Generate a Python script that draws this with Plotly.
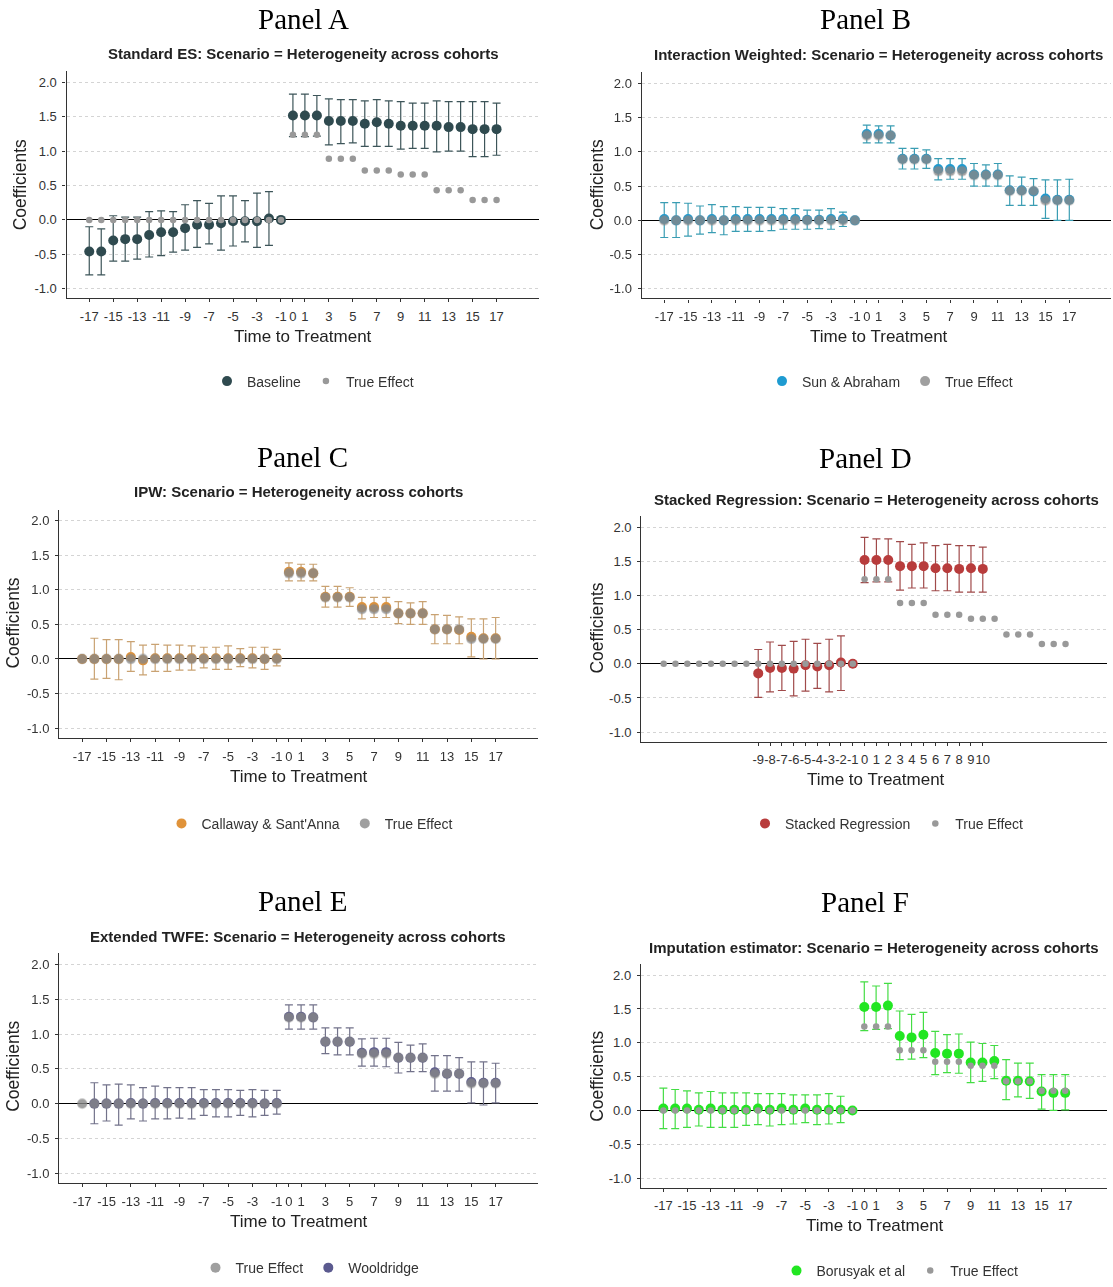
import plotly.graph_objects as go

W, H = 1113, 1287

# ---------------- data ----------------
event_time = [-17, -16, -15, -14, -13, -12, -11, -10, -9, -8, -7, -6, -5, -4, -3, -2, -1,
              0, 1, 2, 3, 4, 5, 6, 7, 8, 9, 10, 11, 12, 13, 14, 15, 16, 17]
stacked_time = [-9, -8, -7, -6, -5, -4, -3, -2, -1, 0, 1, 2, 3, 4, 5, 6, 7, 8, 9, 10]

x_tick_vals = [-17, -15, -13, -11, -9, -7, -5, -3, -1, 0, 1, 3, 5, 7, 9, 11, 13, 15, 17]
x_tick_text = ["-17", "-15", "-13", "-11", "-9", "-7", "-5", "-3", "-1", "0", "1",
               "3", "5", "7", "9", "11", "13", "15", "17"]
stacked_tick_text = ["-9", "-8", "-7", "-6", "-5", "-4", "-3", "-2", "-1", "0",
                     "1", "2", "3", "4", "5", "6", "7", "8", "9", "10"]
y_tick_vals = [-1.0, -0.5, 0.0, 0.5, 1.0, 1.5, 2.0]
y_tick_text = ["-1.0", "-0.5", "0.0", "0.5", "1.0", "1.5", "2.0"]

true_effect = [0.0, 0.0, 0.0, 0.0, 0.0, 0.0, 0.0, 0.0, 0.0, 0.0, 0.0, 0.0, 0.0, 0.0, 0.0, 0.0, 0.0,
               1.24, 1.24, 1.24, 0.89, 0.89, 0.89, 0.72, 0.72, 0.72, 0.66, 0.66, 0.66,
               0.43, 0.43, 0.43, 0.29, 0.29, 0.29]

# Panel A: Baseline
a_est = [-0.46, -0.46, -0.30, -0.28, -0.28, -0.22, -0.18, -0.18, -0.12, -0.07, -0.07, -0.05, -0.02, -0.02, -0.02, 0.02, 0.00,
         1.52, 1.52, 1.52, 1.44, 1.44, 1.44, 1.40, 1.42, 1.40, 1.37, 1.37, 1.37, 1.37, 1.35, 1.35, 1.32, 1.32, 1.32]
a_hi = [-0.10, -0.13, 0.06, 0.04, 0.04, 0.12, 0.13, 0.12, 0.22, 0.28, 0.24, 0.35, 0.35, 0.28, 0.39, 0.41, None,
        1.83, 1.83, 1.81, 1.76, 1.75, 1.75, 1.73, 1.75, 1.73, 1.72, 1.70, 1.70, 1.73, 1.72, 1.72, 1.72, 1.72, 1.70]
a_lo = [-0.80, -0.80, -0.60, -0.60, -0.57, -0.54, -0.52, -0.47, -0.44, -0.40, -0.35, -0.44, -0.38, -0.32, -0.40, -0.37, None,
        1.21, 1.21, 1.22, 1.09, 1.11, 1.12, 1.07, 1.07, 1.07, 1.03, 1.04, 1.04, 0.99, 1.00, 1.00, 0.92, 0.92, 0.94]

# Panel B: Sun & Abraham
b_est = [0.02, 0.00, 0.02, 0.00, 0.02, 0.00, 0.02, 0.02, 0.02, 0.02, 0.02, 0.02, 0.01, 0.01, 0.02, 0.02, 0.00,
         1.26, 1.26, 1.24, 0.90, 0.90, 0.90, 0.75, 0.75, 0.75, 0.67, 0.67, 0.67, 0.44, 0.44, 0.42, 0.32, 0.30, 0.30]
b_hi = [0.26, 0.26, 0.25, 0.21, 0.23, 0.20, 0.20, 0.19, 0.19, 0.19, 0.17, 0.17, 0.15, 0.15, 0.17, 0.12, None,
        1.39, 1.38, 1.38, 1.05, 1.05, 1.03, 0.90, 0.90, 0.90, 0.83, 0.81, 0.83, 0.65, 0.63, 0.61, 0.59, 0.59, 0.60]
b_lo = [-0.25, -0.25, -0.23, -0.20, -0.18, -0.21, -0.16, -0.16, -0.16, -0.15, -0.13, -0.13, -0.13, -0.12, -0.13, -0.09, None,
        1.13, 1.13, 1.13, 0.75, 0.75, 0.76, 0.59, 0.60, 0.60, 0.50, 0.50, 0.50, 0.22, 0.22, 0.22, 0.03, 0.00, 0.00]

# Panel C: Callaway & Sant'Anna
c_est = [0.00, 0.00, 0.00, 0.00, 0.03, -0.02, 0.01, 0.01, 0.01, 0.01, 0.01, 0.01, 0.01, 0.01, 0.01, 0.00, 0.01,
         1.26, 1.26, 1.24, 0.90, 0.90, 0.90, 0.75, 0.75, 0.75, 0.66, 0.66, 0.66, 0.43, 0.43, 0.42, 0.32, 0.30, 0.30]
c_hi = [None, 0.30, 0.28, 0.28, 0.25, 0.20, 0.21, 0.20, 0.20, 0.19, 0.17, 0.17, 0.19, 0.15, 0.17, 0.17, 0.14,
        1.39, 1.37, 1.37, 1.05, 1.05, 1.03, 0.89, 0.89, 0.89, 0.83, 0.81, 0.83, 0.64, 0.63, 0.61, 0.58, 0.58, 0.60]
c_lo = [None, -0.29, -0.28, -0.30, -0.18, -0.23, -0.18, -0.18, -0.16, -0.16, -0.13, -0.15, -0.15, -0.11, -0.13, -0.15, -0.10,
        1.13, 1.13, 1.13, 0.75, 0.75, 0.76, 0.58, 0.60, 0.60, 0.51, 0.50, 0.50, 0.22, 0.22, 0.22, 0.03, 0.00, 0.00]

# Panel D: Stacked Regression (event time -9..10)
d_est = [-0.14, -0.06, -0.06, -0.07, -0.02, -0.04, -0.02, 0.02, 0.00,
         1.52, 1.52, 1.52, 1.43, 1.43, 1.43, 1.40, 1.40, 1.39, 1.40, 1.39]
d_hi = [0.21, 0.32, 0.27, 0.33, 0.36, 0.30, 0.36, 0.41, None,
        1.85, 1.83, 1.83, 1.79, 1.75, 1.77, 1.73, 1.75, 1.73, 1.73, 1.71]
d_lo = [-0.49, -0.41, -0.39, -0.47, -0.40, -0.36, -0.41, -0.39, None,
        1.19, 1.20, 1.20, 1.08, 1.11, 1.11, 1.07, 1.07, 1.05, 1.05, 1.05]

# Panel E: Wooldridge
e_est = [None, 0.00, 0.00, 0.00, 0.01, 0.00, 0.01, 0.01, 0.01, 0.01, 0.01, 0.01, 0.01, 0.01, 0.01, 0.00, 0.01,
         1.25, 1.25, 1.24, 0.89, 0.89, 0.89, 0.73, 0.74, 0.74, 0.66, 0.66, 0.66, 0.45, 0.43, 0.43, 0.31, 0.30, 0.30]
e_hi = [None, 0.30, 0.27, 0.28, 0.27, 0.23, 0.25, 0.23, 0.23, 0.23, 0.20, 0.20, 0.20, 0.19, 0.20, 0.19, 0.19,
        1.42, 1.42, 1.42, 1.09, 1.09, 1.09, 0.93, 0.94, 0.94, 0.88, 0.84, 0.86, 0.69, 0.69, 0.66, 0.60, 0.60, 0.58]
e_lo = [None, -0.29, -0.25, -0.31, -0.22, -0.25, -0.22, -0.22, -0.21, -0.22, -0.17, -0.19, -0.19, -0.17, -0.19, -0.17, -0.15,
        1.07, 1.07, 1.07, 0.72, 0.70, 0.70, 0.54, 0.54, 0.53, 0.44, 0.46, 0.46, 0.18, 0.18, 0.18, 0.01, -0.02, 0.01]

# Panel F: Borusyak et al
f_est = [0.03, 0.03, 0.03, 0.01, 0.03, 0.01, 0.01, 0.01, 0.03, 0.01, 0.03, 0.01, 0.03, 0.01, 0.01, 0.01, 0.00,
         1.53, 1.53, 1.55, 1.10, 1.08, 1.12, 0.85, 0.84, 0.84, 0.71, 0.71, 0.73, 0.44, 0.44, 0.43, 0.28, 0.26, 0.26]
f_hi = [0.33, 0.31, 0.29, 0.26, 0.28, 0.26, 0.26, 0.26, 0.25, 0.25, 0.25, 0.23, 0.23, 0.23, 0.25, 0.21, None,
        1.90, 1.84, 1.88, 1.47, 1.42, 1.45, 1.17, 1.12, 1.13, 1.01, 0.99, 0.96, 0.75, 0.70, 0.70, 0.53, 0.53, 0.53]
f_lo = [-0.27, -0.27, -0.25, -0.23, -0.25, -0.25, -0.25, -0.22, -0.21, -0.23, -0.21, -0.20, -0.18, -0.21, -0.20, -0.18, None,
        1.18, 1.20, 1.21, 0.75, 0.76, 0.78, 0.53, 0.56, 0.55, 0.41, 0.43, 0.47, 0.16, 0.20, 0.18, 0.02, 0.00, 0.01]

# ---------------- styling / layout ----------------
SANS = "Liberation Sans, Arial, sans-serif"
SERIF = "Liberation Serif, Times New Roman, serif"


def px_x(p):
    return p / W


def px_y(p):
    return 1 - p / H


def err_plus(est, hi):
    return [None if (h is None or e is None) else h - e for e, h in zip(est, hi)]


def err_minus(est, lo):
    return [None if (l is None or e is None) else e - l for e, l in zip(est, lo)]


panels = [
    dict(key="A", x=event_time, est=a_est, lo=a_lo, hi=a_hi, name="Baseline",
         mcolor="#2f4a4f", ecolor="#3d5559", te_mode="small", te_first=False,
         xd=(66.5, 538.5), yd=(71.7, 299.4), tickvals=x_tick_vals, ticktext=x_tick_text,
         title=(303, 19), sub=(303, 54), subtitle="Standard ES: Scenario = Heterogeneity across cohorts",
         xt=(303, 338), yt=(20, 186), leg=(313, 383)),
    dict(key="B", x=event_time, est=b_est, lo=b_lo, hi=b_hi, name="Sun & Abraham",
         mcolor="#1e9bd1", ecolor="#3a9db3", te_mode="overlay", te_first=False,
         xd=(641.6, 1111), yd=(72.7, 299.6), tickvals=x_tick_vals, ticktext=x_tick_text,
         title=(865, 19), sub=(878, 55), subtitle="Interaction Weighted: Scenario = Heterogeneity across cohorts",
         xt=(879, 338), yt=(597, 186), leg=(890, 383)),
    dict(key="C", x=event_time, est=c_est, lo=c_lo, hi=c_hi, name="Callaway & Sant'Anna",
         mcolor="#e0933a", ecolor="#c9a272", te_mode="overlay", te_first=False,
         xd=(59.1, 538.2), yd=(511.6, 740.7), tickvals=x_tick_vals, ticktext=x_tick_text,
         title=(302, 459), sub=(298, 493), subtitle="IPW: Scenario = Heterogeneity across cohorts",
         xt=(299, 780), yt=(13, 626), leg=(310, 827)),
    dict(key="D", x=stacked_time, est=d_est, lo=d_lo, hi=d_hi, name="Stacked Regression",
         mcolor="#b83c3c", ecolor="#a04a4a", te_mode="small", te_first=False,
         xd=(641.2, 1106.9), yd=(518.3, 744.6), tickvals=stacked_time, ticktext=stacked_tick_text,
         title=(865, 460), sub=(876, 501), subtitle="Stacked Regression: Scenario = Heterogeneity across cohorts",
         xt=(876, 783), yt=(597, 631), leg=(887, 827)),
    dict(key="E", x=event_time, est=e_est, lo=e_lo, hi=e_hi, name="Wooldridge",
         mcolor="#5b5a8f", ecolor="#72728a", te_mode="overlay", te_first=True,
         xd=(59.1, 538.2), yd=(957.1, 1187.5), tickvals=x_tick_vals, ticktext=x_tick_text,
         title=(302, 905), sub=(298, 940), subtitle="Extended TWFE: Scenario = Heterogeneity across cohorts",
         xt=(299, 1226), yt=(13, 1071), leg=(310, 1273)),
    dict(key="F", x=event_time, est=f_est, lo=f_lo, hi=f_hi, name="Borusyak et al",
         mcolor="#22e622", ecolor="#44dd44", te_mode="small", te_first=False,
         xd=(640.9, 1106.6), yd=(968.1, 1192.2), tickvals=x_tick_vals, ticktext=x_tick_text,
         title=(865, 906), sub=(874, 951), subtitle="Imputation estimator: Scenario = Heterogeneity across cohorts",
         xt=(875, 1230), yt=(597, 1081), leg=(900, 1276)),
]

fig = go.Figure()
layout = dict(
    width=W, height=H, margin=dict(l=0, r=0, t=0, b=0),
    paper_bgcolor="white", plot_bgcolor="white", showlegend=True,
    font=dict(family=SANS, size=13, color="#333333"),
)
annotations = []

for i, p in enumerate(panels):
    k = i + 1
    xa = "x" if k == 1 else f"x{k}"
    ya = "y" if k == 1 else f"y{k}"
    leg = "legend" if k == 1 else f"legend{k}"

    fig.add_trace(go.Scatter(
        x=p["x"], y=p["est"], mode="markers", name=p["name"],
        xaxis=xa, yaxis=ya, legend=leg, legendrank=2 if p["te_first"] else 1,
        marker=dict(color=p["mcolor"], size=10),
        error_y=dict(type="data", symmetric=False,
                     array=err_plus(p["est"], p["hi"]),
                     arrayminus=err_minus(p["est"], p["lo"]),
                     color=p["ecolor"], thickness=1.2, width=4),
        hoverinfo="skip",
    ))
    if p["te_mode"] == "small":
        te_marker = dict(color="#999999", size=6.5)
        te_op = 1.0
    else:
        te_marker = dict(color="#888888", size=10)
        te_op = 0.8
    fig.add_trace(go.Scatter(
        x=event_time, y=true_effect, mode="markers", name="True Effect",
        xaxis=xa, yaxis=ya, legend=leg, legendrank=1 if p["te_first"] else 2,
        marker=te_marker, opacity=te_op, hoverinfo="skip",
    ))

    layout["xaxis" if k == 1 else f"xaxis{k}"] = dict(
        domain=[px_x(p["xd"][0]), px_x(p["xd"][1])], range=[-18.9, 20.5], anchor=ya,
        tickmode="array", tickvals=p["tickvals"], ticktext=p["ticktext"], tickangle=0,
        showline=True, linecolor="#333333", linewidth=1.2, ticks="outside", ticklen=3,
        tickcolor="#333333", showgrid=False, zeroline=False, ticklabelstandoff=3,
        tickfont=dict(family=SANS, size=13, color="#333333"), fixedrange=True,
    )
    layout["yaxis" if k == 1 else f"yaxis{k}"] = dict(
        domain=[px_y(p["yd"][1]), px_y(p["yd"][0])], range=[-1.14, 2.16], anchor=xa,
        tickmode="array", tickvals=y_tick_vals, ticktext=y_tick_text,
        showline=True, linecolor="#333333", linewidth=1.2, ticks="outside", ticklen=3,
        tickcolor="#333333", showgrid=True, gridcolor="#d4d4d4", griddash="dot", gridwidth=1,
        zeroline=True, zerolinecolor="#000000", zerolinewidth=1.2, ticklabelstandoff=3,
        tickfont=dict(family=SANS, size=13, color="#333333"), fixedrange=True,
    )
    layout[leg] = dict(
        orientation="h", x=px_x(p["leg"][0]), y=px_y(p["leg"][1]),
        xanchor="center", yanchor="middle", bgcolor="rgba(0,0,0,0)",
        font=dict(family=SANS, size=14, color="#333333"), itemclick=False,
    )

    annotations += [
        dict(text="Panel " + p["key"], x=px_x(p["title"][0]), y=px_y(p["title"][1]),
             xref="paper", yref="paper", xanchor="center", yanchor="middle", showarrow=False,
             font=dict(family=SERIF, size=29, color="#000000")),
        dict(text="<b>" + p["subtitle"] + "</b>", x=px_x(p["sub"][0]), y=px_y(p["sub"][1]),
             xref="paper", yref="paper", xanchor="center", yanchor="middle", showarrow=False,
             font=dict(family=SANS, size=15, color="#222222")),
        dict(text="Time to Treatment", x=px_x(p["xt"][0]), y=px_y(p["xt"][1]),
             xref="paper", yref="paper", xanchor="center", yanchor="middle", showarrow=False,
             font=dict(family=SANS, size=17, color="#222222")),
        dict(text="Coefficients", x=px_x(p["yt"][0]), y=px_y(p["yt"][1]), textangle=-90,
             xref="paper", yref="paper", xanchor="center", yanchor="middle", showarrow=False,
             font=dict(family=SANS, size=17.5, color="#222222")),
    ]

layout["annotations"] = annotations
fig.update_layout(**layout)
fig.write_html("out.html")
